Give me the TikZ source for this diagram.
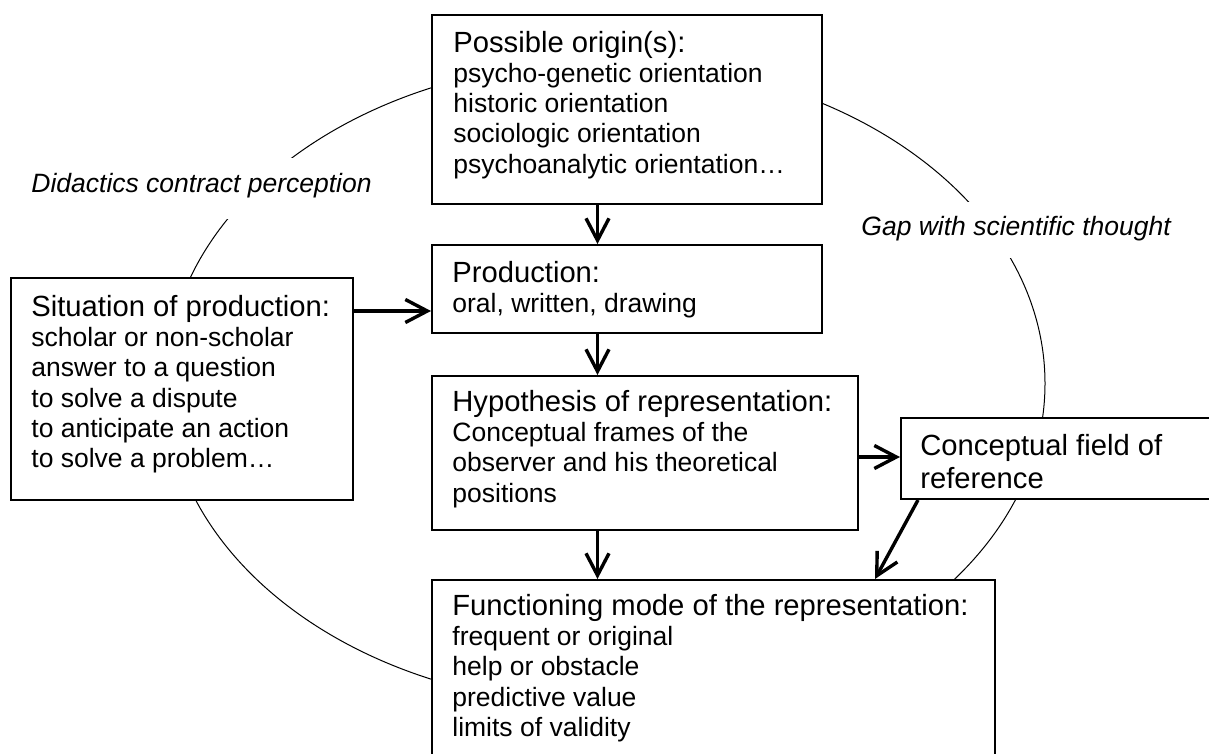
\documentclass[tikz,border=0pt]{standalone}
\usepackage{fontspec}
\setmainfont{Liberation Sans}
\usetikzlibrary{arrows.meta}
\newcommand\ttlfont{\fontsize{14.6pt}{16.3pt}\selectfont}
\newcommand\bdyfont{\fontsize{13.25pt}{15.1pt}\selectfont}
\begin{document}
\begin{tikzpicture}[x=0.5pt,y=-0.5pt,
  box/.style={draw, line width=1pt, fill=white, inner sep=0pt, anchor=north west},
  txt/.style={inner sep=0pt, anchor=north west, align=left, font=\bdyfont},
  arr/.style={line width=1.7pt, -{Straight Barb[length=11pt,width=11.5pt]}},
  lbl/.style={fill=white, inner sep=0pt, anchor=base west, font=\bdyfont\itshape}]
\useasboundingbox (0,0) rectangle (1209,754);
\clip (0,0) rectangle (1209,754);
% big ellipse behind everything
\draw[line width=0.5pt] (605.5,383.5) ellipse [x radius=439.5, y radius=322];
% boxes
\node[box, minimum width=195pt, minimum height=94.5pt] (B1) at (431,14) {};
\node[box, minimum width=195pt, minimum height=44pt] (Prod) at (431,244) {};
\node[box, minimum width=171pt, minimum height=111pt] (Sit) at (10,277) {};
\node[box, minimum width=213pt, minimum height=77pt] (Hyp) at (431,375) {};
\node[box, minimum width=281.5pt, minimum height=100pt] (Func) at (431,579) {};
\node[box, minimum width=160pt, minimum height=40.5pt] (Conc) at (900,417) {};
% texts
\node[txt] (B1t) at (453,30) {\rule{0pt}{11pt}{\ttlfont Possible origin(s):}\\psycho-genetic orientation\\historic orientation\\sociologic orientation\\psychoanalytic orientation…};
\node[txt] (Prodt) at (452,260) {\rule{0pt}{11pt}{\ttlfont Production:}\\oral, written, drawing};
\node[txt] (Sitt) at (31,294) {\rule{0pt}{11pt}{\ttlfont Situation of production:}\\scholar or non-scholar\\answer to a question\\to solve a dispute\\to anticipate an action\\to solve a problem…};
\node[txt] (Hypt) at (452,389) {\rule{0pt}{11pt}{\ttlfont Hypothesis of representation:}\\Conceptual frames of the\\observer and his theoretical\\positions};
\node[txt] (Funct) at (452,593) {\rule{0pt}{11pt}{\ttlfont Functioning mode of the representation:}\\frequent or original\\help or obstacle\\predictive value\\limits of validity};
\node[txt, font=\ttlfont] (Conct) at (920,433) {\rule{0pt}{11pt}Conceptual field of\\reference};
% labels on the ellipse
\node[lbl, text height=17.5pt, text depth=13pt] (Ldid) at (31,193) {Didactics contract perception};
\node[lbl, text height=16.5pt, text depth=11.5pt] (Lgap) at (861,235) {Gap with scientific thought};
% arrows
\coordinate (xa) at (597.5,0);
\coordinate (ya) at (0,311);
\coordinate (yb) at (0,457);
\coordinate (xd1) at (918,0);
\coordinate (xd2) at (875,0);
\draw[arr] (B1.south -| xa) -- (Prod.north -| xa);
\draw[arr] (Prod.south -| xa) -- (Hyp.north -| xa);
\draw[arr] (Hyp.south -| xa) -- (Func.north -| xa);
\draw[arr] (Sit.east |- ya) -- (Prod.west |- ya);
\draw[arr] (Hyp.east |- yb) -- (Conc.west |- yb);
\draw[arr] (Conc.south -| xd1) -- (Func.north -| xd2);
\end{tikzpicture}
\end{document}
